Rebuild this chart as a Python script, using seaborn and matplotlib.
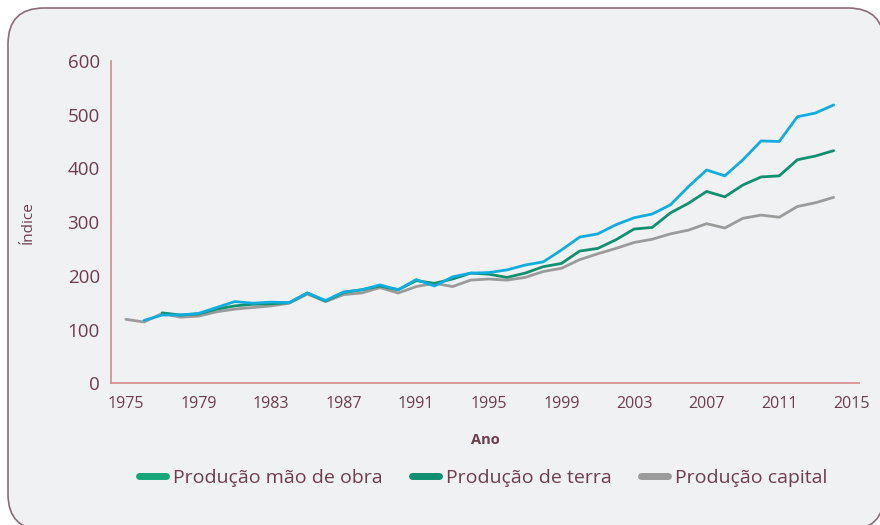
import numpy as np
import pandas as pd
import seaborn as sns
from matplotlib import pyplot as plt
from matplotlib.lines import Line2D
from matplotlib.patches import FancyBboxPatch
from matplotlib.ticker import MultipleLocator

# values (index, yearly)
years_capital = list(range(1975, 2015))
capital = [119, 114, 130, 123, 125, 133, 138, 141, 144, 149,
           166, 152, 165, 168, 178, 168, 180, 186, 180, 192,
           194, 192, 197, 208, 214, 230, 241, 251, 262, 268,
           278, 285, 297, 289, 307, 313, 309, 329, 336, 346]

years_terra = list(range(1977, 2015))
terra = [131, 127, 129, 138, 144, 147, 148, 150,
         168, 153, 169, 174, 181, 174, 191, 186, 194, 205,
         203, 197, 205, 217, 223, 246, 251, 267, 287, 290,
         317, 335, 357, 347, 369, 384, 386, 416, 423, 433]

years_mao = list(range(1976, 2015))
mao_de_obra = [117, 127, 127, 130, 141, 152, 149, 151, 150,
               168, 154, 170, 174, 183, 174, 193, 181, 198, 205,
               206, 211, 220, 226, 248, 272, 278, 295, 308, 315,
               332, 366, 397, 386, 416, 451, 450, 496, 503, 518]

series_names = ['Produção mão de obra', 'Produção de terra', 'Produção capital']
line_colors = ['#12addf', '#10906f', '#9b9b9b']
legend_colors = ['#17a57a', '#0f8f6f', '#9b9b9b']

TEXT = '#6d3d4b'
SPINE = '#d69191'
TICK = '#c44848'

df = pd.concat([
    pd.DataFrame({'Ano': years_mao, 'Índice': mao_de_obra, 'serie': series_names[0]}),
    pd.DataFrame({'Ano': years_terra, 'Índice': terra, 'serie': series_names[1]}),
    pd.DataFrame({'Ano': years_capital, 'Índice': capital, 'serie': series_names[2]}),
])

sns.set_theme(style='white')
plt.rcParams['font.family'] = ['Open Sans', 'DejaVu Sans']

fig = plt.figure(figsize=(8.8, 5.25), dpi=100, facecolor='white')

# rounded card behind the chart
card = FancyBboxPatch((0.08, -0.05), 8.76, 5.22,
                      boxstyle='round,pad=0,rounding_size=0.36',
                      transform=fig.dpi_scale_trans,
                      facecolor='#f0f1f3', edgecolor='#8c6b77', linewidth=1.2,
                      zorder=-5)
fig.add_artist(card)

ax = fig.add_axes([0.126, 0.270, 0.850, 0.614])
ax.patch.set_alpha(0)

# draw capital first so the others sit on top
for name, col in zip(series_names[::-1], line_colors[::-1]):
    sns.lineplot(data=df[df['serie'] == name], x='Ano', y='Índice',
                 color=col, linewidth=2.0, ax=ax, legend=False)

ax.set_xlim(1974.17, 2015.39)
ax.set_ylim(0, 600)
ax.set_xticks(list(range(1975, 2016, 4)))
ax.xaxis.set_minor_locator(MultipleLocator(1))
ax.set_yticks(list(range(0, 601, 100)))

for s in ['top', 'right']:
    ax.spines[s].set_visible(False)
for s in ['left', 'bottom']:
    ax.spines[s].set_color(SPINE)
    ax.spines[s].set_linewidth(1.3)

ax.tick_params(axis='x', which='both', direction='in', length=5, width=1,
               color=TICK, pad=9, labelsize=11.5, labelcolor=TEXT)
ax.tick_params(axis='y', direction='out', length=5, width=1,
               color=TICK, pad=3, labelsize=13.5, labelcolor=TEXT)

ax.set_xlabel('Ano', fontsize=10.5, fontweight='bold', color=TEXT, labelpad=15)
ax.set_ylabel('Índice', fontsize=11, color=TEXT, labelpad=23)

handles = [Line2D([0], [0], color=c, lw=5, solid_capstyle='round') for c in legend_colors]
leg = fig.legend(handles, series_names, loc='center', bbox_to_anchor=(0.549, 0.089),
                 ncol=3, frameon=False, fontsize=14, handlelength=1.4,
                 handletextpad=0.35, columnspacing=1.5)
for t in leg.get_texts():
    t.set_color(TEXT)

fig.savefig('out.png', dpi=100, facecolor='white')
